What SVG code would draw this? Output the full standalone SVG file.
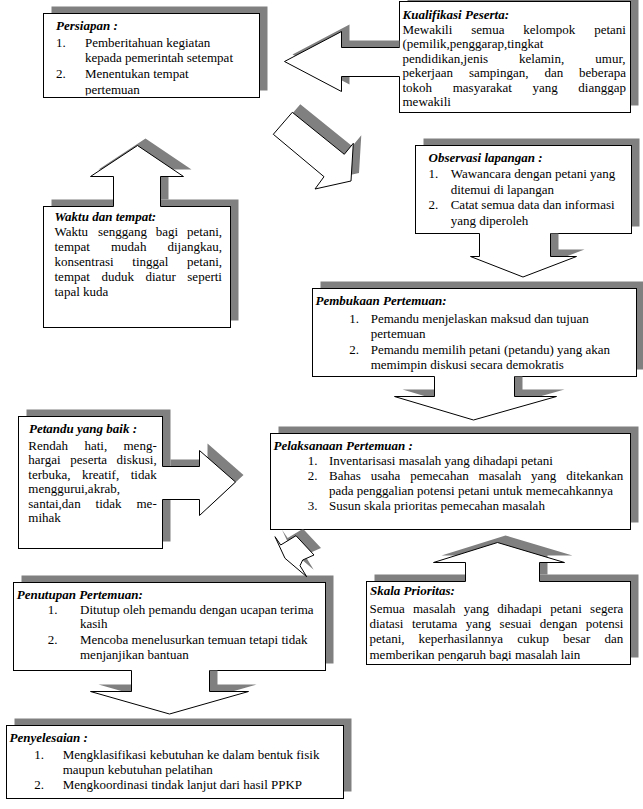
<svg xmlns="http://www.w3.org/2000/svg" width="643" height="809" viewBox="0 0 643 809">
<style>
.sh{fill:#808080}
.bx{fill:#fff;stroke:#000;stroke-width:1}
.t{font-family:"Liberation Serif","Times New Roman",serif;font-size:13px;fill:#000}
.h{font-weight:bold;font-style:italic}
.af{fill:#fff;stroke:none}
.ao{fill:none;stroke:#000;stroke-width:1;stroke-linejoin:miter}
.ap{fill:#fff;stroke:#000;stroke-width:1}
</style>
<defs>
<clipPath id="outside"><path clip-rule="evenodd" d="M0 0H643V809H0Z M43.5 13.5h216v84h-216Z M399.5 1.5h231v111h-231Z M43.5 206.5h187v121h-187Z M415.5 145.5h216v88h-216Z M312.5 288.5h324v88h-324Z M18.5 416.5h144v132h-144Z M270.5 433.5h360v96h-360Z M366.5 581.5h264v83h-264Z M13.5 582.5h312v88h-312Z M6.5 725.5h337v73h-337Z"/></clipPath>
<clipPath id="c1"><rect x="44" y="14" width="215" height="81.5"/></clipPath>
<clipPath id="c2"><rect x="367" y="582" width="263" height="79"/></clipPath>
</defs>
<rect width="643" height="809" fill="#fff"/>

<g id="persiapan">
<rect class="sh" x="51.5" y="6.5" width="216" height="84"/>
<rect class="bx" x="43.5" y="13.5" width="216" height="84"/>
<g clip-path="url(#c1)">
<text class="t h" x="56" y="29.5">Persiapan :</text>
<text class="t" x="56" y="47">1.</text><text class="t" x="85" y="47">Pemberitahuan kegiatan</text>
<text class="t" x="85" y="62">kepada pemerintah setempat</text>
<text class="t" x="56" y="78">2.</text><text class="t" x="85" y="78">Menentukan tempat</text>
<text class="t" x="85" y="94">pertemuan</text>
</g>
</g>

<g id="kualifikasi">
<rect class="sh" x="407.5" y="-5.5" width="231" height="111"/>
<rect class="bx" x="399.5" y="1.5" width="231" height="111"/>
<text class="t h" x="402.5" y="18.5">Kualifikasi Peserta:</text>
<text class="t" y="33.5"><tspan x="402.5">Mewakili</tspan><tspan x="471.2">semua</tspan><tspan x="523.3">kelompok</tspan><tspan x="594.2">petani</tspan></text>
<text class="t" x="402.5" y="48">(pemilik,penggarap,tingkat</text>
<text class="t" y="62.5"><tspan x="402.5">pendidikan,jenis</tspan><tspan x="519.1">kelamin,</tspan><tspan x="595.3">umur,</tspan></text>
<text class="t" y="77"><tspan x="402.5">pekerjaan</tspan><tspan x="468.9">sampingan,</tspan><tspan x="544.4">dan</tspan><tspan x="579.1">beberapa</tspan></text>
<text class="t" y="91.5"><tspan x="402.5">tokoh</tspan><tspan x="452.7">masyarakat</tspan><tspan x="532.5">yang</tspan><tspan x="578.3">dianggap</tspan></text>
<text class="t" x="402.5" y="106">mewakili</text>
</g>

<g id="waktu">
<rect class="sh" x="51.5" y="199.5" width="187" height="121"/>
<rect class="bx" x="43.5" y="206.5" width="187" height="121"/>
<text class="t h" x="54.5" y="220.5">Waktu dan tempat:</text>
<text class="t" y="236"><tspan x="54.5">Waktu</tspan><tspan x="97.9">senggang</tspan><tspan x="155.8">bagi</tspan><tspan x="187">petani,</tspan></text>
<text class="t" y="251"><tspan x="54.5">tempat</tspan><tspan x="111">mudah</tspan><tspan x="167.5">dijangkau,</tspan></text>
<text class="t" y="266"><tspan x="54.5">konsentrasi</tspan><tspan x="132.3">tinggal</tspan><tspan x="187">petani,</tspan></text>
<text class="t" y="281"><tspan x="54.5">tempat</tspan><tspan x="101.4">duduk</tspan><tspan x="145.5">diatur</tspan><tspan x="187.3">seperti</tspan></text>
<text class="t" x="54.5" y="296">tapal kuda</text>
</g>

<g id="observasi">
<rect class="sh" x="423.5" y="138.5" width="216" height="88"/>
<rect class="bx" x="415.5" y="145.5" width="216" height="88"/>
<text class="t h" x="428.5" y="161.5">Observasi lapangan :</text>
<text class="t" x="428.5" y="178">1.</text><text class="t" x="450.7" y="178">Wawancara dengan petani yang</text>
<text class="t" x="450.7" y="193.5">ditemui di lapangan</text>
<text class="t" x="428.5" y="209">2.</text><text class="t" x="450.7" y="209">Catat semua data dan informasi</text>
<text class="t" x="450.7" y="224.5">yang diperoleh</text>
</g>

<g id="pembukaan">
<rect class="sh" x="320.5" y="281.5" width="324" height="88"/>
<rect class="bx" x="312.5" y="288.5" width="324" height="88"/>
<text class="t h" x="315.5" y="305">Pembukaan Pertemuan:</text>
<text class="t" x="349.3" y="323">1.</text><text class="t" x="370.7" y="323">Pemandu menjelaskan maksud dan tujuan</text>
<text class="t" x="370.7" y="338">pertemuan</text>
<text class="t" x="349.3" y="353.5">2.</text><text class="t" x="370.7" y="353.5">Pemandu memilih petani (petandu) yang akan</text>
<text class="t" x="370.7" y="368.5">memimpin diskusi secara demokratis</text>
</g>

<g id="petandu">
<rect class="sh" x="26.5" y="409.5" width="144" height="132"/>
<rect class="bx" x="18.5" y="416.5" width="144" height="132"/>
<text class="t h" x="29" y="432.5">Petandu yang baik :</text>
<text class="t" y="449.5"><tspan x="28.3">Rendah</tspan><tspan x="84.4">hati,</tspan><tspan x="123.5">meng-</tspan></text>
<text class="t" y="464"><tspan x="28.3">hargai</tspan><tspan x="70.3">peserta</tspan><tspan x="116.6">diskusi,</tspan></text>
<text class="t" y="478.5"><tspan x="28.3">terbuka,</tspan><tspan x="82">kreatif,</tspan><tspan x="130.7">tidak</tspan></text>
<text class="t" x="28.3" y="493">menggurui,akrab,</text>
<text class="t" y="507.5"><tspan x="28.3">santai,dan</tspan><tspan x="95.6">tidak</tspan><tspan x="136.5">me-</tspan></text>
<text class="t" x="28.3" y="522">mihak</text>
</g>

<g id="pelaksanaan">
<rect class="sh" x="278.5" y="426.5" width="360" height="96"/>
<rect class="bx" x="270.5" y="433.5" width="360" height="96"/>
<text class="t h" x="273.5" y="449.5">Pelaksanaan Pertemuan :</text>
<text class="t" x="307.7" y="465">1.</text><text class="t" x="329" y="465">Inventarisasi masalah yang dihadapi petani</text>
<text class="t" x="307.7" y="480">2.</text>
<text class="t" y="480"><tspan x="329">Bahas</tspan><tspan x="370.7">usaha</tspan><tspan x="410.2">pemecahan</tspan><tspan x="478.6">masalah</tspan><tspan x="531.1">yang</tspan><tspan x="566.3">ditekankan</tspan></text>
<text class="t" x="329" y="495">pada penggalian potensi petani untuk memecahkannya</text>
<text class="t" x="307.7" y="510">3.</text><text class="t" x="329" y="510">Susun skala prioritas pemecahan masalah</text>
</g>

<g id="skala">
<rect class="sh" x="374.5" y="574.5" width="264" height="83"/>
<rect class="bx" x="366.5" y="581.5" width="264" height="83"/>
<g clip-path="url(#c2)">
<text class="t h" x="370" y="595">Skala Prioritas:</text>
<text class="t" y="613"><tspan x="369.5">Semua</tspan><tspan x="413">masalah</tspan><tspan x="463.8">yang</tspan><tspan x="497.2">dihadapi</tspan><tspan x="550.2">petani</tspan><tspan x="590.1">segera</tspan></text>
<text class="t" y="628"><tspan x="369.5">diatasi</tspan><tspan x="411.9">terutama</tspan><tspan x="465.8">yang</tspan><tspan x="499.6">sesuai</tspan><tspan x="539.8">dengan</tspan><tspan x="585.8">potensi</tspan></text>
<text class="t" y="643"><tspan x="369.5">petani,</tspan><tspan x="418.6">keperhasilannya</tspan><tspan x="517.2">cukup</tspan><tspan x="563">besar</tspan><tspan x="604.5">dan</tspan></text>
<text class="t" x="369.5" y="659">memberikan pengaruh bagi masalah lain</text>
</g>
</g>

<g id="penutupan">
<rect class="sh" x="21.5" y="575.5" width="312" height="88"/>
<rect class="bx" x="13.5" y="582.5" width="312" height="88"/>
<text class="t h" x="16.7" y="598.5">Penutupan Pertemuan:</text>
<text class="t" x="47.7" y="613.5">1.</text><text class="t" x="80" y="613.5">Ditutup oleh pemandu dengan ucapan terima</text>
<text class="t" x="80" y="628">kasih</text>
<text class="t" x="47.7" y="643.5">2.</text><text class="t" x="80" y="643.5">Mencoba menelusurkan temuan tetapi tidak</text>
<text class="t" x="80" y="658.5">menjanjikan bantuan</text>
</g>

<g id="penyelesaian">
<rect class="sh" x="14.5" y="718.5" width="337" height="73"/>
<rect class="bx" x="6.5" y="725.5" width="337" height="73"/>
<text class="t h" x="9.5" y="742">Penyelesaian :</text>
<text class="t" x="34.3" y="758.5">1.</text><text class="t" x="62.7" y="758.5">Mengklasifikasi kebutuhan ke dalam bentuk fisik</text>
<text class="t" x="62.7" y="773.5">maupun kebutuhan pelatihan</text>
<text class="t" x="34.3" y="788.5">2.</text><text class="t" x="62.7" y="788.5">Mengkoordinasi tindak lanjut dari hasil PPKP</text>
</g>

<g id="connectors">
<g class="sh" clip-path="url(#outside)">
<polygon points="407.5,40.5 349.5,40.5 349.5,24.5 292.5,54.5 349.5,84.5 349.5,69.5 407.5,69.5"/>
<polygon points="281.3,126.3 300.3,104.3 352.3,146.3 361.3,135.3 359,173 323,181 332,168.7"/>
<polygon points="121.5,199.5 121.5,169.5 98.5,169.5 145.5,138.5 191.5,169.5 168.5,169.5 168.5,199.5"/>
<polygon points="487.5,226.5 487.5,249.5 478.5,249.5 531,270 584.5,249.5 558.5,249.5 558.5,226.5"/>
<polygon points="442.5,369.5 442.5,389.5 402.5,389.5 481.5,413 564.5,389.5 522.5,389.5 522.5,369.5"/>
<polygon points="170.5,459.5 207.5,459.5 207.5,443.5 243.5,475 207.5,508.5 207.5,492.5 170.5,492.5"/>
<polygon points="473.5,574.5 473.5,555.5 441.5,555.5 505.5,535.5 572.5,555.5 547.5,555.5 547.5,574.5"/>
<polygon points="282,529.7 287.7,538 303,528.7 321,548 309.7,553 307,558.7 313.7,569.7 292,551.3"/>
<polygon points="139.5,663.5 139.5,684.5 98.5,684.5 177.5,707 256.5,684.5 217.5,684.5 217.5,663.5"/>
</g>
<polygon class="af" points="400.5,47.5 341.5,47.5 341.5,31.5 284.5,61.5 341.5,91.5 341.5,76.5 400.5,76.5"/>
<polyline class="ao" points="399.5,47.5 341.5,47.5 341.5,31.5 284.5,61.5 341.5,91.5 341.5,76.5 399.5,76.5"/>
<polygon class="ap" points="273.3,134.3 292.3,112.3 344.3,154.3 353.3,143.3 351,181 315,189 324,176.7"/>
<polygon class="af" points="113.5,207.5 113.5,176.5 90.5,176.5 137.5,145.5 183.5,176.5 160.5,176.5 160.5,207.5"/>
<polyline class="ao" points="113.5,206.5 113.5,176.5 90.5,176.5 137.5,145.5 183.5,176.5 160.5,176.5 160.5,206.5"/>
<polygon class="af" points="479.5,232.5 479.5,256.5 470.5,256.5 523,277 576.5,256.5 550.5,256.5 550.5,232.5"/>
<polyline class="ao" points="479.5,233.5 479.5,256.5 470.5,256.5 523,277 576.5,256.5 550.5,256.5 550.5,233.5"/>
<polygon class="af" points="434.5,375.5 434.5,396.5 394.5,396.5 473.5,420 556.5,396.5 514.5,396.5 514.5,375.5"/>
<polyline class="ao" points="434.5,376.5 434.5,396.5 394.5,396.5 473.5,420 556.5,396.5 514.5,396.5 514.5,376.5"/>
<polygon class="af" points="161.5,466.5 199.5,466.5 199.5,450.5 235.5,482 199.5,515.5 199.5,499.5 161.5,499.5"/>
<polyline class="ao" points="162.5,466.5 199.5,466.5 199.5,450.5 235.5,482 199.5,515.5 199.5,499.5 162.5,499.5"/>
<polygon class="af" points="465.5,582.5 465.5,562.5 433.5,562.5 497.5,542.5 564.5,562.5 539.5,562.5 539.5,582.5"/>
<polyline class="ao" points="465.5,581.5 465.5,562.5 433.5,562.5 497.5,542.5 564.5,562.5 539.5,562.5 539.5,581.5"/>
<polygon class="ap" points="275,536.7 280.7,545 296,535.7 314,555 302.7,560 300,565.7 306.7,576.7 285,558.3"/>
<polygon class="af" points="131.5,669.5 131.5,691.5 90.5,691.5 169.5,714 248.5,691.5 209.5,691.5 209.5,669.5"/>
<polyline class="ao" points="131.5,670.5 131.5,691.5 90.5,691.5 169.5,714 248.5,691.5 209.5,691.5 209.5,670.5"/>
</g>
</svg>
